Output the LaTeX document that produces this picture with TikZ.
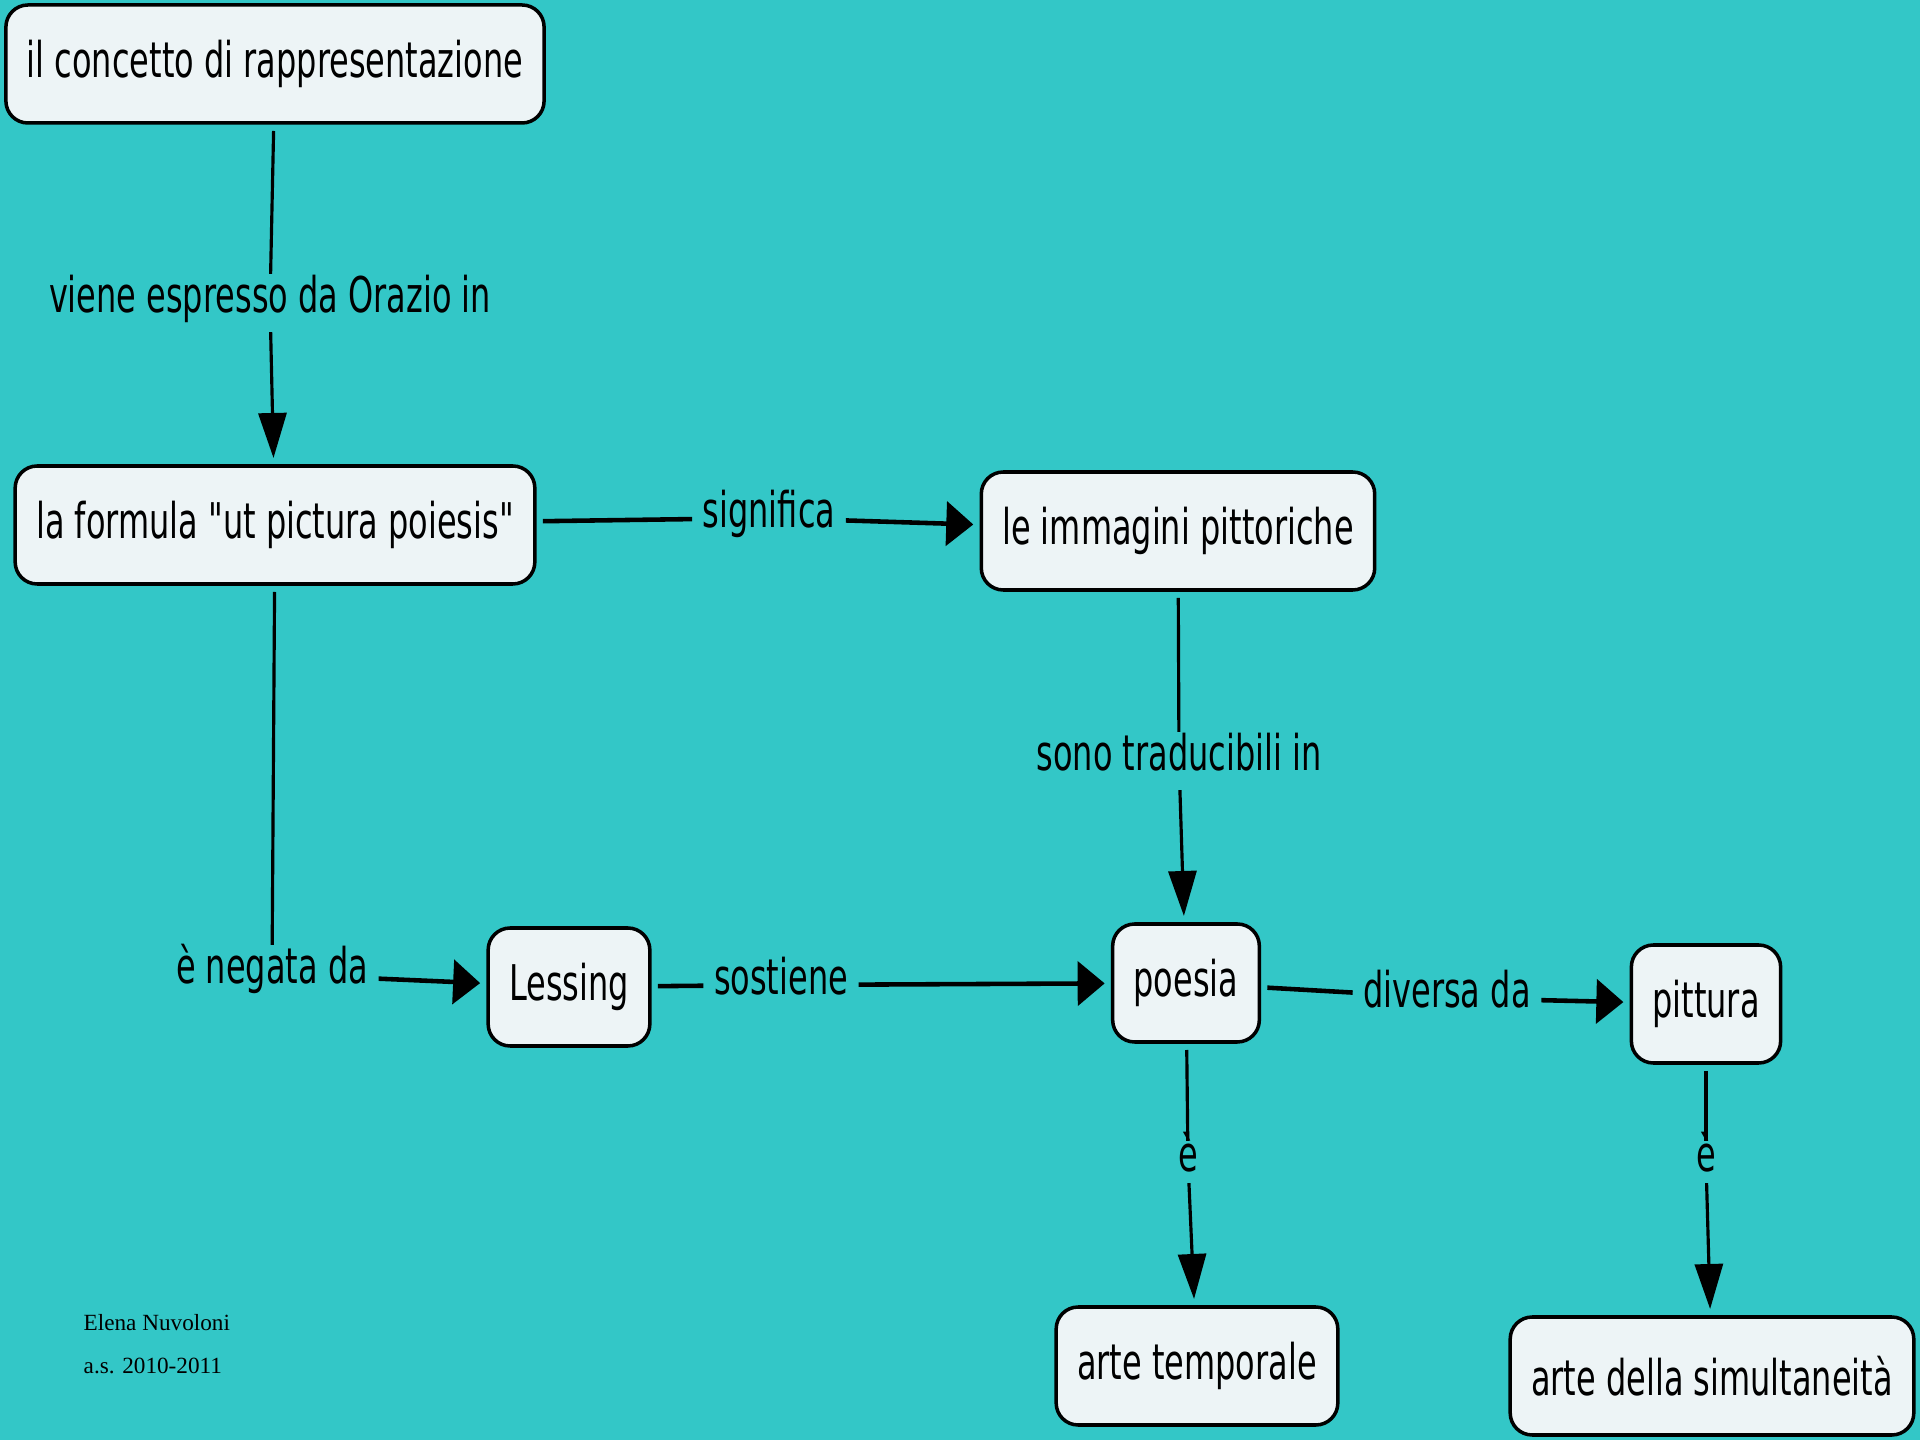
\documentclass[tikz,border=0pt]{standalone}
\usepackage{fontspec}
\newfontfamily\mapfamily{DejaVu Sans}[FakeStretch=0.65]
\newfontfamily\footfamily{Liberation Serif}
\definecolor{mapteal}{RGB}{51,199,199}
\definecolor{conceptfill}{RGB}{237,244,246}
\usetikzlibrary{positioning,arrows.meta}
\tikzset{
  box/.style  = {rectangle, draw, rounded corners=2.2mm, line width=1pt,
                 fill=conceptfill, inner xsep=2.1mm, inner ysep=0pt,
                 minimum height=11.8mm, outer sep=0.8mm,
                 font=\mapfamily\fontsize{14pt}{16pt}\selectfont},
  lab/.style  = {inner xsep=1mm, inner ysep=1mm, text height=0.8em,
                 text depth=0.25em,
                 font=\mapfamily\fontsize{14pt}{16pt}\selectfont},
  link/.style = {line width=0.9pt},
  hlink/.style = {line width=1.3pt},
  arr/.style  = {link, -{Triangle[length=4.5mm,width=2.8mm]}},
  arrs/.style = {hlink, -{Triangle[length=2.7mm,width=4.4mm]}},
  foot/.style = {anchor=base west, inner sep=0pt,
                 font=\footfamily\fontsize{6.6pt}{8pt}\selectfont}
}

\begin{document}
\begin{tikzpicture}[x=0.1mm, y=-0.1mm]
    \fill[mapteal] (0,0) rectangle (1920,1440);

    % concepts
    \node[box] (concept)   at (275,64)    {il concetto di rappresentazione};
    \node[box] (formula)   at (275,525)   {la formula "ut pictura poiesis"};
    \node[box] (immagini)  at (1178,531)  {le immagini pittoriche};
    \node[box] (lessing)   at (569,987)   {Lessing};
    \node[box] (poesia)    at (1186,983)  {poesia};
    \node[box] (pittura)   at (1706,1004) {pittura};
    \node[box] (temporale) at (1197,1366) {arte temporale};
    \node[box] (simult)    at (1712,1376) {arte della simultaneità};

    % linking phrases
    \node[lab] (viene)    at (270,303)   {viene espresso da Orazio in};
    \node[lab] (significa) at (769,518)  {significa};
    \node[lab] (sono)     at (1179,761)  {sono traducibili in};
    \node[lab] (negata)   at (272,974)   {è negata da};
    \node[lab] (sostiene) at (781,985)   {sostiene};
    \node[lab] (diversa)  at (1447,998)  {diversa da};
    \node[lab, inner ysep=0.2mm] (epoesia)  at (1188,1162) {è};
    \node[lab, inner ysep=0.2mm] (epittura) at (1706,1162) {è};

    % connectors
    \draw[link]  (concept) -- (viene);
    \draw[arr]   (viene) -- (formula);
    \draw[hlink] (formula) -- (significa);
    \draw[arrs]  (significa) -- (immagini);
    \draw[link]  (immagini) -- (sono);
    \draw[arr]   (sono) -- (poesia);
    \draw[link]  (formula) -- (negata);
    \draw[arrs]  (negata) -- (lessing);
    \draw[hlink] (lessing) -- (sostiene);
    \draw[arrs]  (sostiene) -- (poesia);
    \draw[hlink] (poesia) -- (diversa);
    \draw[arrs]  (diversa) -- (pittura);
    \draw[link]  (poesia) -- (epoesia);
    \draw[arr]   (epoesia) -- (temporale);
    \draw[link]  (pittura) -- (epittura);
    \draw[arr]   (epittura) -- (simult);

    % author note
    \node[foot] (author) at (83,1330) {Elena Nuvoloni};
    \node[foot] (year)   at (83,1373) {a.s. 2010-2011};
\end{tikzpicture}
\end{document}
